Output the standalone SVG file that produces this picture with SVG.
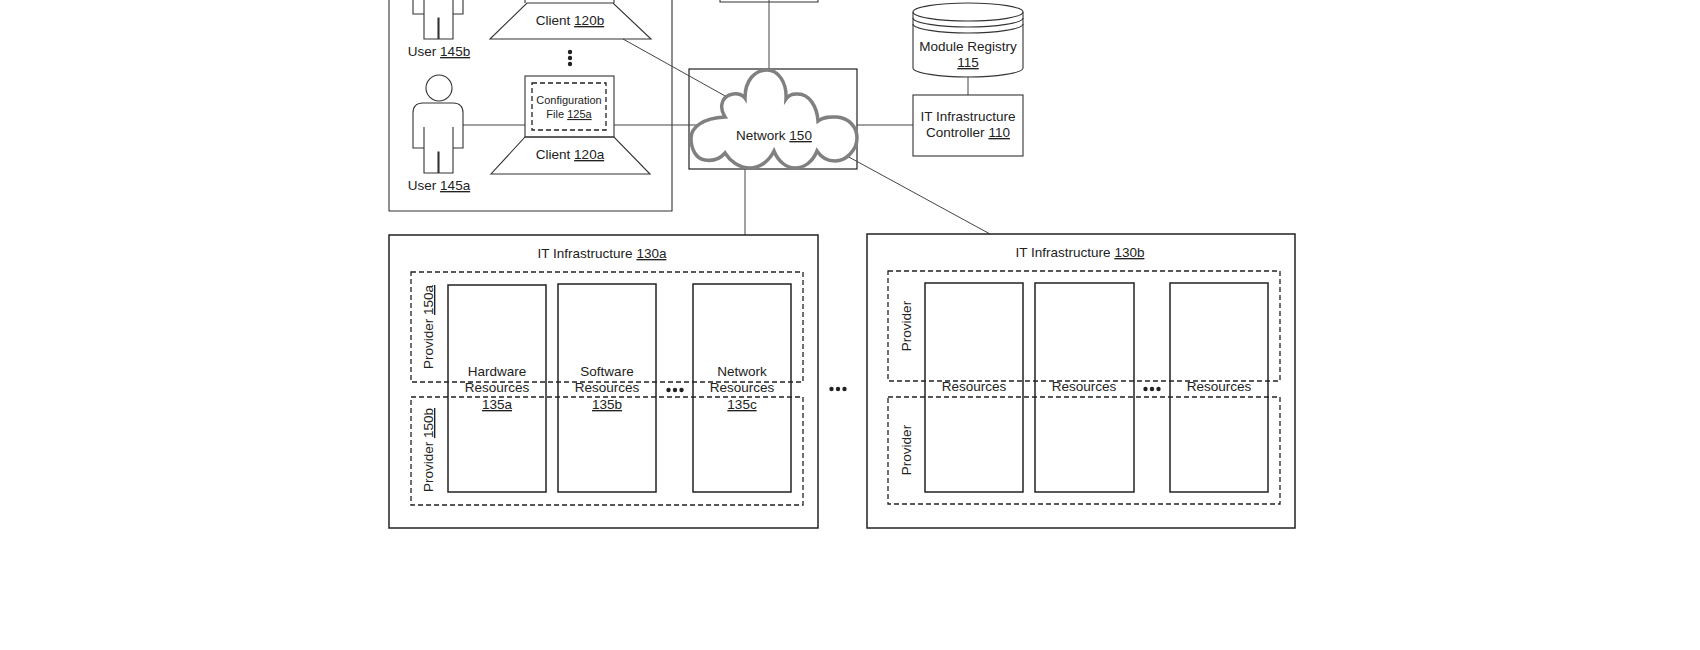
<svg xmlns="http://www.w3.org/2000/svg" xmlns:xlink="http://www.w3.org/1999/xlink" width="1700" height="650" viewBox="0 0 1700 650">
<style>
text{font-family:"Liberation Sans",Arial,sans-serif;font-size:13.5px;fill:#222;text-anchor:middle}
.u{text-decoration:underline}
.s{fill:none;stroke:#333;stroke-width:1.1}
.b{fill:none;stroke:#222;stroke-width:1.5}
.d{fill:none;stroke:#222;stroke-width:1.3;stroke-dasharray:5 3}
.c{fill:none;stroke:#444;stroke-width:1}
.dot{fill:#222;stroke:none}
</style>
<defs>
<g id="person"><circle class="s" cx="439" cy="88" r="13"/><path class="s" d="M424 127V148H413V113Q413 103 423 103H453Q463 103 463 113V148H453V127M424 148V173H438V152H439V173H453V148"/></g>
<g id="dots3h"><circle class="dot" cx="-6.500" cy="0" r="2.200"/><circle class="dot" cx="0" cy="0" r="2.200"/><circle class="dot" cx="6.500" cy="0" r="2.200"/></g>
</defs>
<rect width="1700" height="650" fill="#fff"/>
<g id="top-node"><path class="s" d="M720 0V2H818V0"/></g>
<g id="user-group"><path class="s" d="M389 0V211H672V0"/></g>
<g id="network-box"><rect x="689" y="69" width="168" height="100" fill="none" stroke="#222" stroke-width="1.200"/></g>
<g id="connectors">
<path class="c" d="M769 0V69"/>
<path class="c" d="M623 39L727 97"/>
<path class="c" d="M463 125H525"/>
<path class="c" d="M614 125H697"/>
<path class="c" d="M857 125H913"/>
<path class="c" d="M968 77V95"/>
<path class="c" d="M745 169V235"/>
<path class="c" d="M847 156L990 234"/>
</g>
<g id="user-145b">
<path class="s" d="M424 0V39H438V18H439V39H453V0M413 0V14H424M463 0V14H453"/>
<text x="439" y="56">User <tspan class="u">145b</tspan></text>
</g>
<g id="client-120b">
<path class="s" d="M525 0V3M614 0V3M527 3H613L651 39H490Z"/>
<text x="570" y="25">Client <tspan class="u">120b</tspan></text>
</g>
<g id="ellipsis-v"><circle class="dot" cx="570" cy="52" r="2.200"/><circle class="dot" cx="570" cy="58" r="2.200"/><circle class="dot" cx="570" cy="64" r="2.200"/></g>
<g id="user-145a">
<use href="#person" xlink:href="#person"/>
<text x="439" y="190">User <tspan class="u">145a</tspan></text>
</g>
<g id="client-120a">
<rect class="s" x="525" y="76" width="89" height="61"/>
<rect class="d" x="532" y="83" width="74" height="47" stroke-width="1"/>
<path class="s" d="M525 137H614L650 174H491Z"/>
<text x="569" y="104" style="font-size:11px">Configuration</text>
<text x="569" y="118" style="font-size:11px">File <tspan class="u">125a</tspan></text>
<text x="570" y="159">Client <tspan class="u">120a</tspan></text>
</g>
<g id="network-150">
<path d="M725 153C719 160 711 161 705 160C696 159 691 149 691 138C691 128 702 118 725 117C719 108 721 96 733 94C738 93 743 95 745 98C745 80 755 70 767 70C778 70 787 82 786 99C790 93 795 94 798 94C809 94 817 106 818 121C825 116 831 117 837 117C849 118 857 127 857 138C857 150 846 161 835 161C827 161 821 157 817 151C813 161 805 168 795 168C786 168 778 161 774 151C769 161 760 168 750 168C739 168 730 161 725 153Z" fill="#fff" stroke="#808080" stroke-width="3.500"/>
<text x="774" y="140">Network <tspan class="u">150</tspan></text>
</g>
<g id="module-registry-115">
<path class="s" d="M913 12V68C913 73 940 77 968 77C996 77 1023 73 1023 68V12"/>
<ellipse class="s" cx="968" cy="12" rx="55" ry="9"/>
<path class="s" d="M913 18C913 23 940 27 968 27C996 27 1023 23 1023 18M913 24C913 29 940 33 968 33C996 33 1023 29 1023 24"/>
<text x="968" y="51">Module Registry</text>
<text x="968" y="67"><tspan class="u">115</tspan></text>
</g>
<g id="controller-110">
<rect class="s" x="913" y="95" width="110" height="61"/>
<text x="968" y="121">IT Infrastructure</text>
<text x="968" y="137">Controller <tspan class="u">110</tspan></text>
</g>
<g id="it-130a">
<rect class="b" x="389" y="235" width="429" height="293"/>
<text x="602" y="258">IT Infrastructure <tspan class="u">130a</tspan></text>
<rect class="d" x="411" y="272" width="392" height="110"/>
<rect class="d" x="411" y="397" width="392" height="108"/>
<text transform="translate(433 327) rotate(-90)">Provider <tspan class="u">150a</tspan></text>
<text transform="translate(433 450) rotate(-90)">Provider <tspan class="u">150b</tspan></text>
<rect class="b" x="448" y="285" width="98" height="207"/>
<rect class="b" x="558" y="284" width="98" height="208"/>
<rect class="b" x="693" y="284" width="98" height="208"/>
<text x="497" y="376">Hardware</text><text x="497" y="392">Resources</text><text x="497" y="409"><tspan class="u">135a</tspan></text>
<text x="607" y="376">Software</text><text x="607" y="392">Resources</text><text x="607" y="409"><tspan class="u">135b</tspan></text>
<text x="742" y="376">Network</text><text x="742" y="392">Resources</text><text x="742" y="409"><tspan class="u">135c</tspan></text>
<use href="#dots3h" xlink:href="#dots3h" transform="translate(675 390)"/>
</g>
<g id="ellipsis-h"><use href="#dots3h" xlink:href="#dots3h" transform="translate(838 389)"/></g>
<g id="it-130b">
<rect class="b" x="867" y="234" width="428" height="294"/>
<text x="1080" y="257">IT Infrastructure <tspan class="u">130b</tspan></text>
<rect class="d" x="888" y="271" width="392" height="110"/>
<rect class="d" x="888" y="397" width="392" height="107"/>
<text transform="translate(911 326) rotate(-90)">Provider</text>
<text transform="translate(911 450) rotate(-90)">Provider</text>
<rect class="b" x="925" y="283" width="98" height="209"/>
<rect class="b" x="1035" y="283" width="99" height="209"/>
<rect class="b" x="1170" y="283" width="98" height="209"/>
<text x="974" y="391">Resources</text><text x="1084" y="391">Resources</text><text x="1219" y="391">Resources</text>
<use href="#dots3h" xlink:href="#dots3h" transform="translate(1152 389)"/>
</g>
</svg>
